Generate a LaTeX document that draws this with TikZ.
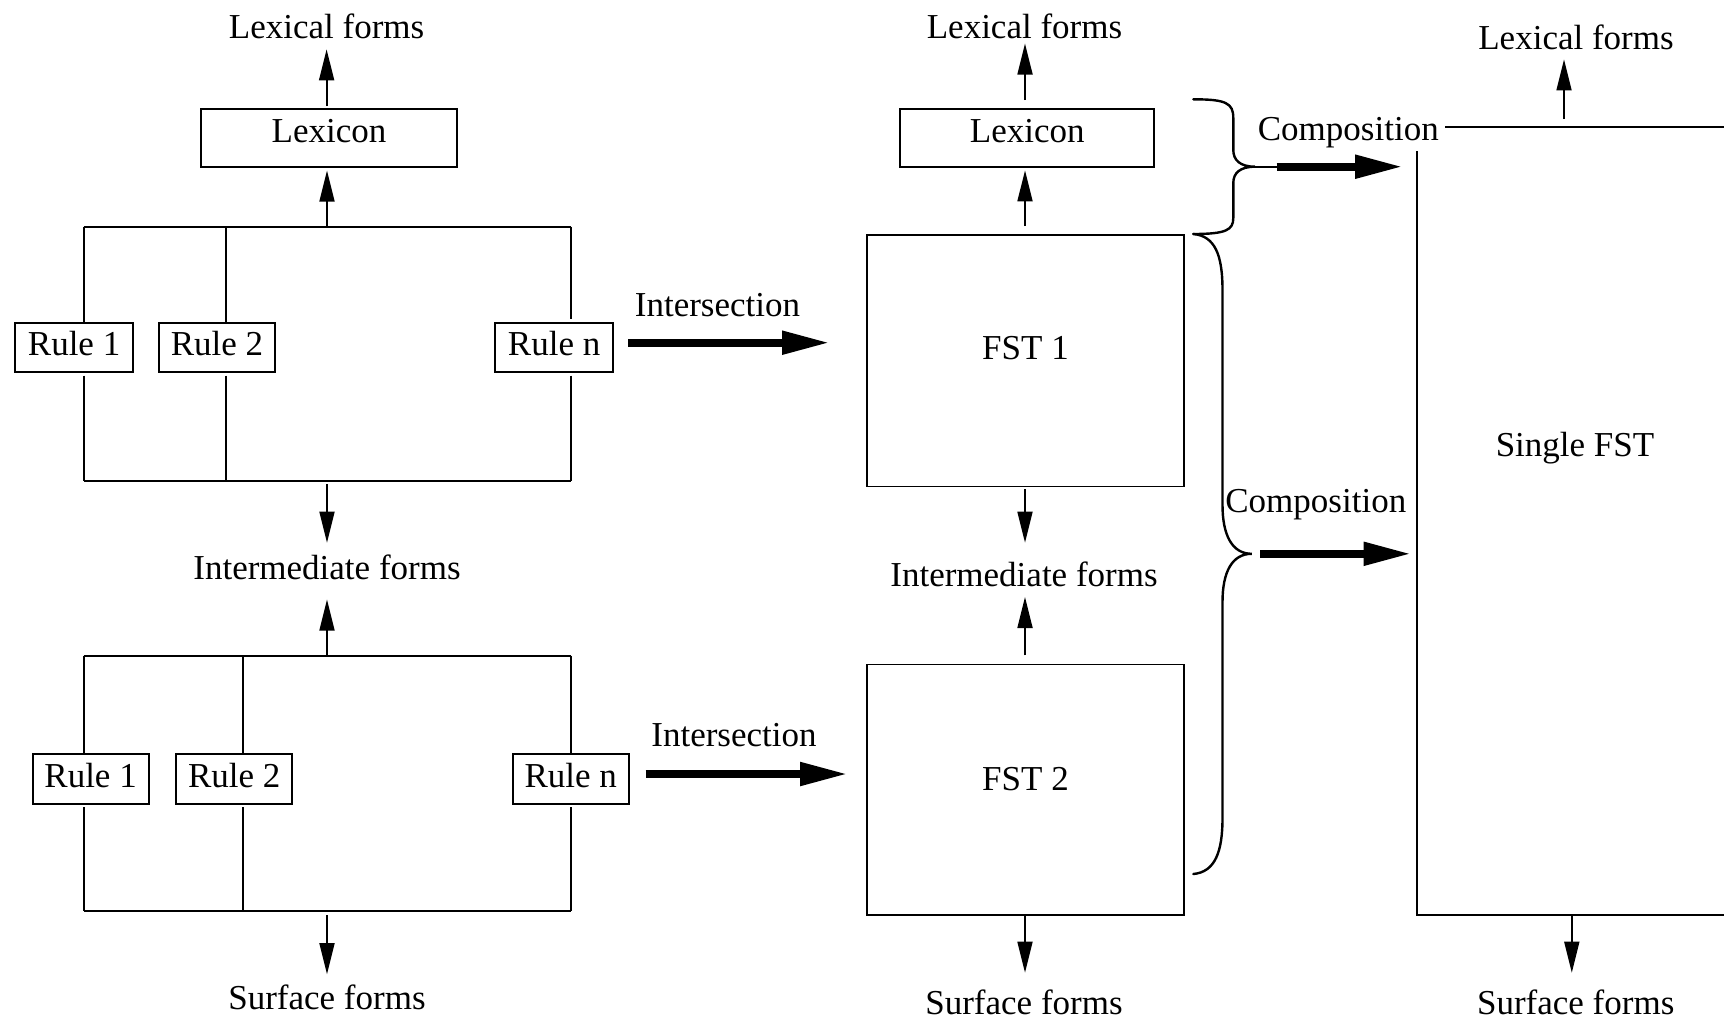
\documentclass[tikz,border=0pt]{standalone}
\usepackage{fontspec}
\setmainfont{Liberation Serif}
\usetikzlibrary{arrows.meta}
\begin{document}
\begin{tikzpicture}[x=1pt,y=-1pt,
  txt/.style={font=\fontsize{35}{40}\selectfont, inner sep=0pt, anchor=base},
  box/.style={draw, line width=1.8pt, inner sep=0pt, font=\fontsize{35}{40}\selectfont, text height=23pt},
  ln/.style={line width=1.8pt},
  arr/.style={line width=1.8pt, -{Triangle[length=31pt,width=15pt]}},
  bigarr/.style={line width=8pt, -{Triangle[length=48pt,width=22pt]}},
  bracepath/.style={line width=2.4pt, line cap=round}]
\useasboundingbox (0,0) rectangle (1724,1021);

% ---------- left column ----------
\node[txt] (lf1) at (326.6,38.8) {Lexical forms};
\node[box, minimum width=256pt, minimum height=58pt, text depth=14pt] (lex1) at (329,138) {Lexicon};
\node[txt] (im1) at (327,579.5) {Intermediate forms};
\node[txt] (sf1) at (327,1009) {Surface forms};

% block 1
\coordinate (b1tl) at (83.7,226.7);
\coordinate (b1tr) at (570.6,226.7);
\coordinate (b1bl) at (83.7,480.7);
\coordinate (b1br) at (570.6,480.7);
\coordinate (b1t2) at (225.7,226.7);
\coordinate (b1b2) at (225.7,480.7);
\coordinate (b1tm) at (327,226.7);
\coordinate (b1bm) at (327,480.7);
\node[box, minimum width=118pt, minimum height=49.6pt, text depth=7pt] (r11) at (74.1,347.5) {Rule 1};
\node[box, minimum width=115.5pt, minimum height=49.6pt, text depth=7pt] (r12) at (217,347.5) {Rule 2};
\node[box, minimum width=118pt, minimum height=49.6pt, text depth=7pt] (r1n) at (554.1,347.5) {Rule n};
\draw[ln] (b1tl) -- (b1tr);
\draw[ln] (b1bl) -- (b1br);
\draw[ln] (b1tl) -- (b1tl |- r11.north);
\draw[ln, shorten <=2.5pt] (b1bl |- r11.south) -- (b1bl);
\draw[ln] (b1t2) -- (b1t2 |- r12.north);
\draw[ln, shorten <=2.5pt] (b1b2 |- r12.south) -- (b1b2);
\draw[ln, shorten >=2.5pt] (b1tr) -- (b1tr |- r1n.north);
\draw[ln, shorten <=2.5pt] (b1br |- r1n.south) -- (b1br);

% block 2
\coordinate (b2tl) at (83.7,655.7);
\coordinate (b2tr) at (570.6,655.7);
\coordinate (b2bl) at (83.7,910.7);
\coordinate (b2br) at (570.6,910.7);
\coordinate (b2t2) at (243.3,655.7);
\coordinate (b2b2) at (243.3,910.7);
\coordinate (b2tm) at (327,655.7);
\coordinate (b2bm) at (327,910.7);
\node[box, minimum width=116pt, minimum height=49.4pt, text depth=6pt] (r21) at (90.6,779) {Rule 1};
\node[box, minimum width=116pt, minimum height=49.4pt, text depth=6pt] (r22) at (234.3,779) {Rule 2};
\node[box, minimum width=116pt, minimum height=49.4pt, text depth=6pt] (r2n) at (570.7,779) {Rule n};
\draw[ln] (b2tl) -- (b2tr);
\draw[ln] (b2bl) -- (b2br);
\draw[ln] (b2tl) -- (b2tl |- r21.north);
\draw[ln, shorten <=2.5pt] (b2bl |- r21.south) -- (b2bl);
\draw[ln] (b2t2) -- (b2t2 |- r22.north);
\draw[ln, shorten <=2.5pt] (b2b2 |- r22.south) -- (b2b2);
\draw[ln] (b2tr) -- (b2tr |- r2n.north);
\draw[ln, shorten <=2.5pt] (b2br |- r2n.south) -- (b2br);

% left arrows
\draw[arr, shorten <=2pt, shorten >=10pt] (lex1.north -| lf1.south) -- (lf1.south);
\draw[arr, shorten >=2.7pt] (b1tm) -- (b1tm |- lex1.south);
\draw[arr, shorten <=3.3pt, shorten >=12pt] (b1bm) -- (im1.north);
\draw[arr, shorten >=19.5pt] (b2tm) -- (im1.south);
\draw[arr, shorten <=4.3pt, shorten >=10pt] (b2bm) -- (sf1.north);

% ---------- intersection ----------
\node[txt] (int1) at (717.5,316.7) {Intersection};
\node[txt] (int2) at (734,746.7) {Intersection};
\coordinate (i1s) at (628.3,342.7);
\coordinate (i1e) at (830,342.7);
\coordinate (i2s) at (645.7,774);
\coordinate (i2e) at (848,774);
\draw[bigarr] (i1s) -- (i1e);
\draw[bigarr] (i2s) -- (i2e);

% ---------- middle column ----------
\node[txt] (lf2) at (1024.5,38.5) {Lexical forms};
\node[box, minimum width=254pt, minimum height=58pt, text depth=14pt] (lex2) at (1027.3,138) {Lexicon};
\node[box, minimum width=317.7pt, minimum height=251.4pt, text depth=25.4pt] (fst1) at (1025.5,360.7) {FST 1};
\node[txt] (im2) at (1024,586.5) {Intermediate forms};
\node[box, minimum width=317.7pt, minimum height=250.2pt, text depth=21pt] (fst2) at (1025.5,789.6) {FST 2};
\node[txt] (sf2) at (1024,1014) {Surface forms};
\coordinate (mx) at (1025,0);
\draw[arr, shorten <=8pt, shorten >=4.5pt] (mx |- lex2.north) -- (mx |- lf2.south);
\draw[arr, shorten <=8pt, shorten >=2.5pt] (mx |- fst1.north) -- (mx |- lex2.south);
\draw[arr, shorten <=2pt, shorten >=19pt] (mx |- fst1.south) -- (mx |- im2.north);
\draw[arr, shorten <=8.3pt, shorten >=10pt] (mx |- fst2.north) -- (mx |- im2.south);
\draw[arr, shorten >=16.5pt] (mx |- fst2.south) -- (mx |- sf2.north);

% ---------- right column ----------
\node[minimum width=322.7pt, minimum height=787.7pt, inner sep=0pt] (sfst) at (1578.65,520.85) {};
\draw[ln] (sfst.north east) -- (sfst.north west) -- (sfst.south west) -- (sfst.south east);
\node[txt] (sfstt) at (1575,456) {Single FST};
\node[txt] (lf3) at (1576,49.2) {Lexical forms};
\node[txt] (sf3) at (1575.7,1014) {Surface forms};
\coordinate (sfu) at (1564,127);
\coordinate (sfd) at (1571.8,914.7);
\draw[arr, shorten <=8pt, shorten >=9.7pt] (sfu) -- (sfu |- lf3.south);
\draw[arr, shorten >=16.5pt] (sfd) -- (sfd |- sf3.north);

% ---------- composition ----------
\node[txt, fill=white, inner xsep=6pt, inner ysep=4pt] (comp1) at (1348.3,140) {Composition};
\node[txt] (comp2) at (1315.8,512.7) {Composition};

% upper brace
\coordinate (bt1) at (1255,166.7);
\draw[bracepath] (1193.3,99.3) .. controls (1226,99.3) and (1233.3,103) .. (1233.3,118)
  -- (1233.3,150) .. controls (1233.3,160) and (1240,166.7) .. (bt1)
  .. controls (1240,166.7) and (1233.3,173) .. (1233.3,183)
  -- (1233.3,218) .. controls (1233.3,230) and (1226,234) .. (1193.3,234);
\draw[line width=2pt] (bt1) -- ++(22,0);
\draw[bigarr, shorten <=21.7pt, shorten >=14pt] (bt1) -- (bt1 -| sfst.west);

% lower brace
\coordinate (bt2) at (1251.7,553.8);
\draw[bracepath] (1193.3,234) .. controls (1215,236) and (1222.5,255) .. (1222.5,290)
  -- (1222.5,505) .. controls (1222.5,535) and (1232,553.8) .. (bt2)
  .. controls (1232,553.8) and (1222.5,572) .. (1222.5,602)
  -- (1222.5,818) .. controls (1222.5,852) and (1215,872) .. (1193.3,874);
\draw[bigarr, shorten <=8.3pt, shorten >=5.6pt] (bt2) -- (bt2 -| sfst.west);
\end{tikzpicture}
\end{document}
